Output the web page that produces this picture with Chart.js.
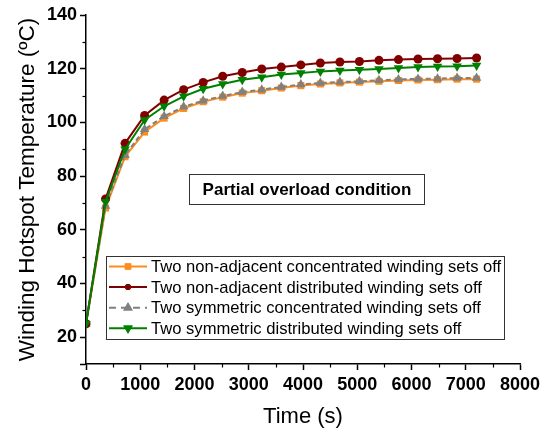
<!DOCTYPE html>
<html>
<head>
<meta charset="utf-8">
<script src="https://cdn.jsdelivr.net/npm/chart.js@4/dist/chart.umd.min.js"></script>
<style>
html,body{margin:0;padding:0;background:#fff;}
#wrap{width:551px;height:435px;position:relative;}
</style>
</head>
<body>
<div id="wrap"><canvas id="c" width="551" height="435"></canvas></div>
<script>
const timeS = [0,360,720,1080,1440,1800,2160,2520,2880,3240,3600,3960,4320,4680,5040,5400,5760,6120,6480,6840,7200];
const nonAdjConc = [25,68.1,87.2,96.4,101.6,105.2,107.7,109.4,110.9,111.8,112.8,113.7,114.3,114.7,115.0,115.3,115.6,115.8,115.9,116.1,116.1];
const nonAdjDist = [25,71.5,92.2,102.6,108.3,112.2,114.9,117.2,118.6,119.9,120.6,121.4,122.1,122.5,122.7,123.1,123.4,123.6,123.7,123.8,124.0];
const symConc = [25,68.9,87.8,97.4,102.3,105.8,108.1,109.8,111.3,112.2,113.2,114.1,114.7,115.0,115.3,115.7,116.0,116.2,116.3,116.5,116.5];
const symDist = [25,70.4,90.0,100.9,106.0,109.7,112.5,114.3,115.9,116.8,117.8,118.4,119.0,119.3,119.6,119.9,120.3,120.6,120.8,120.9,121.2];
const seriesNames = [
  'Two non-adjacent concentrated winding sets off',
  'Two non-adjacent distributed winding sets off',
  'Two symmetric concentrated winding sets off',
  'Two symmetric distributed winding sets off'
];
const xTicks = [0,1000,2000,3000,4000,5000,6000,7000,8000];
const yTicks = [20,40,60,80,100,120,140];
const xMinor = [500,1500,2500,3500,4500,5500,6500,7500];
const yMinor = [30,50,70,90,110,130];
const annotationText = 'Partial overload condition';
const xTitle = 'Time (s)';
const yTitle = 'Winding Hotspot Temperature (ºC)';

const ORANGE = '#FF8C1A', RED = '#800000', GRAY = '#808080', GREEN = '#008000';
const FONT = "'Liberation Sans', Arial, sans-serif";

function pts(arr){ return arr.map((v,i)=>({x: timeS[i], y: v})); }

const styles = [
  {color: ORANGE, style: 'rect', radius: 5, rot: 0, dash: []},
  {color: RED, style: 'circle', radius: 4.5, rot: 0, dash: []},
  {color: GRAY, style: 'triangle', radius: 5.5, rot: 0, dash: [5,3]},
  {color: GREEN, style: 'triangle', radius: 5.5, rot: 180, dash: []}
];
const seriesData = [nonAdjConc, nonAdjDist, symConc, symDist];
const orders = [4,2,3,1];

const datasets = seriesData.map((d,i)=>({
  label: seriesNames[i],
  data: pts(d),
  borderColor: styles[i].color,
  backgroundColor: styles[i].color,
  pointBackgroundColor: styles[i].color,
  pointBorderColor: styles[i].color,
  pointBorderWidth: 0,
  pointStyle: styles[i].style,
  pointRadius: styles[i].radius,
  pointRotation: styles[i].rot,
  borderWidth: 2,
  borderDash: styles[i].dash,
  tension: 0,
  order: orders[i]
}));

const extras = {
  id: 'extras',
  afterDraw(chart){
    const ctx = chart.ctx;
    const xs = chart.scales.x, ys = chart.scales.y;
    ctx.save();
    ctx.strokeStyle = '#000'; ctx.lineWidth = 1.2;
    const ca = chart.chartArea;
    xMinor.forEach(v=>{
      const px = Math.round(xs.getPixelForValue(v))+0.5;
      ctx.beginPath(); ctx.moveTo(px, ca.bottom); ctx.lineTo(px, ca.bottom+3.5); ctx.stroke();
    });
    yMinor.forEach(v=>{
      const py = Math.round(ys.getPixelForValue(v))+0.5;
      ctx.beginPath(); ctx.moveTo(ca.left, py); ctx.lineTo(ca.left-3.5, py); ctx.stroke();
    });
    // annotation box
    ctx.strokeStyle = '#333'; ctx.lineWidth = 1;
    ctx.strokeRect(189.5, 174.5, 235, 30);
    ctx.fillStyle = '#000';
    ctx.font = "bold 17px " + FONT;
    ctx.textAlign = 'center'; ctx.textBaseline = 'middle';
    ctx.fillText(annotationText, 307, 190);
    // legend
    ctx.fillStyle = '#fff';
    ctx.fillRect(106.5, 256.5, 398, 83);
    ctx.strokeStyle = '#333'; ctx.lineWidth = 1;
    ctx.strokeRect(106.5, 256.5, 398, 83);
    const legendMarker = [{r: 4.5}, {r: 3}, {r: 5.5}, {r: 5.5}];
    seriesNames.forEach((name,i)=>{
      const y = 266.5 + i*20.6;
      const st = styles[i];
      ctx.strokeStyle = st.color; ctx.lineWidth = 2;
      ctx.setLineDash(st.dash.length ? [7,5] : []);
      ctx.beginPath(); ctx.moveTo(109, y); ctx.lineTo(147, y); ctx.stroke();
      ctx.setLineDash([]);
      ctx.fillStyle = st.color;
      Chart.helpers.drawPoint(ctx, {pointStyle: st.style, radius: legendMarker[i].r, rotation: st.rot, borderWidth: 0}, 128, y);
      ctx.fill();
      ctx.fillStyle = '#000';
      ctx.font = "16.6px " + FONT;
      ctx.textAlign = 'left'; ctx.textBaseline = 'middle';
      ctx.fillText(name, 151, y+1);
    });
    ctx.restore();
  }
};

new Chart(document.getElementById('c'), {
  type: 'line',
  data: { datasets },
  options: {
    responsive: false,
    animation: false,
    devicePixelRatio: 1,
    layout: { padding: {left: 0, top: 15, right: 31, bottom: 0} },
    plugins: { legend: {display: false}, tooltip: {enabled: false} },
    scales: {
      x: {
        type: 'linear', min: 0, max: 8000,
        afterFit(s){ s.height = 71; },
        afterBuildTicks(s){ s.ticks = xTicks.map(v=>({value: v})); },
        ticks: { color: '#000', font: {family: FONT, size: 18, weight: 'bold'}, padding: 4, maxRotation: 0, autoSkip: false,
          callback: v => String(v) },
        grid: { drawOnChartArea: false, drawTicks: true, tickLength: 6, color: '#000', tickWidth: 1.5 },
        border: { color: '#000', width: 1.5 },
        title: { display: true, text: xTitle, color: '#000', font: {family: FONT, size: 22}, padding: {top: 0, bottom: 5} }
      },
      y: {
        type: 'linear', min: 10, max: 140,
        afterFit(s){ s.width = 86; },
        afterBuildTicks(s){ s.ticks = [10].concat(yTicks).map(v=>({value: v})); },
        ticks: { color: '#000', font: {family: FONT, size: 18, weight: 'bold'}, padding: 3,
          callback: v => (v === 10 ? '' : String(v)), autoSkip: false },
        grid: { drawOnChartArea: false, drawTicks: true, tickLength: 6, color: '#000', tickWidth: 1.5 },
        border: { color: '#000', width: 1.5 },
        title: { display: true, text: yTitle, color: '#000', font: {family: FONT, size: 22.5}, padding: {top: 14, bottom: 0} }
      }
    }
  },
  plugins: [extras]
});
</script>
</body>
</html>
